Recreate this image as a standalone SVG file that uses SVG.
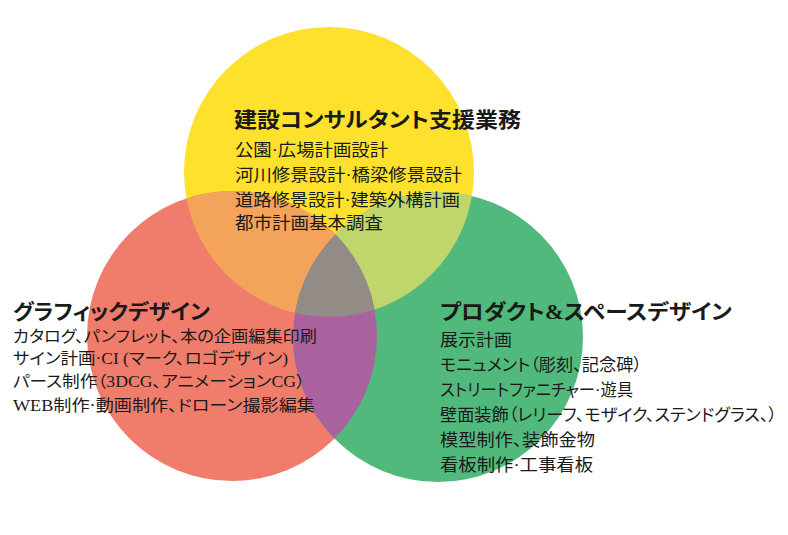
<svg xmlns="http://www.w3.org/2000/svg" width="788" height="535" viewBox="0 0 788 535">
  <style>
    text { font-family: "Liberation Serif", "Noto Sans CJK JP", serif; fill: #1a1a1a; font-feature-settings: "palt" 1; }
    .title { font-weight: bold; font-size: 21px; }
    .body { font-size: 17px; }
    .bodyS { font-size: 16px; }
  </style>
  <defs>
    <clipPath id="clipY"><circle cx="329" cy="172" r="145"/></clipPath>
    <clipPath id="clipR"><circle cx="232" cy="336" r="145"/></clipPath>
    <clipPath id="clipG"><circle cx="438" cy="337" r="145"/></clipPath>
  </defs>
  <rect width="788" height="535" fill="#ffffff"/>

  <g id="circle-consulting">
    <circle cx="329" cy="172" r="145" fill="#FDE12D"/>
  </g>
  <g id="circle-graphic">
    <circle cx="232" cy="336" r="145" fill="#F07C6C"/>
  </g>
  <g id="circle-product">
    <circle cx="438" cy="337" r="145" fill="#52B97D"/>
  </g>

  <g id="overlaps">
    <g clip-path="url(#clipY)">
      <circle cx="232" cy="336" r="145" fill="#F4A35A"/>
      <circle cx="438" cy="337" r="145" fill="#BED66C"/>
    </g>
    <g clip-path="url(#clipR)">
      <circle cx="438" cy="337" r="145" fill="#AA629F"/>
    </g>
    <g clip-path="url(#clipY)">
      <g clip-path="url(#clipR)">
        <circle cx="438" cy="337" r="145" fill="#938B86"/>
      </g>
    </g>
  </g>

  <g id="label-consulting">
    <text class="title" x="234" y="127" textLength="287" lengthAdjust="spacingAndGlyphs">建設コンサルタント支援業務</text>
    <text class="body" x="235" y="156" textLength="153" lengthAdjust="spacingAndGlyphs">公園·広場計画設計</text>
    <text class="body" x="235" y="181" textLength="227" lengthAdjust="spacingAndGlyphs">河川修景設計·橋梁修景設計</text>
    <text class="body" x="235" y="205.5" textLength="225" lengthAdjust="spacingAndGlyphs">道路修景設計·建築外構計画</text>
    <text class="body" x="235" y="229" textLength="148" lengthAdjust="spacingAndGlyphs">都市計画基本調査</text>
  </g>

  <g id="label-graphic">
    <text class="title" x="13" y="319" textLength="197" lengthAdjust="spacingAndGlyphs">グラフィックデザイン</text>
    <text class="bodyS" x="13" y="342" textLength="304" lengthAdjust="spacingAndGlyphs">カタログ、パンフレット、本の企画編集印刷</text>
    <text class="bodyS" x="13" y="364" textLength="275" lengthAdjust="spacingAndGlyphs">サイン計画·CI (マーク、ロゴデザイン)</text>
    <text class="bodyS" x="13" y="387" textLength="292" lengthAdjust="spacingAndGlyphs">パース制作（3DCG、アニメーションCG）</text>
    <text class="bodyS" x="13" y="411" textLength="302" lengthAdjust="spacingAndGlyphs">WEB制作·動画制作、ドローン撮影編集</text>
  </g>

  <g id="label-product">
    <text class="title" x="440" y="319" textLength="292" lengthAdjust="spacingAndGlyphs">プロダクト&amp;スペースデザイン</text>
    <text class="body" x="440" y="345.5" textLength="72" lengthAdjust="spacingAndGlyphs">展示計画</text>
    <text class="body" x="440" y="370.5" textLength="202" lengthAdjust="spacingAndGlyphs">モニュメント（彫刻、記念碑）</text>
    <text class="body" x="440" y="395.5" textLength="193" lengthAdjust="spacingAndGlyphs">ストリートファニチャー·遊具</text>
    <text class="body" x="440" y="420.5" textLength="337" lengthAdjust="spacingAndGlyphs">壁面装飾（レリーフ、モザイク、ステンドグラス、）</text>
    <text class="body" x="440" y="445.5" textLength="155" lengthAdjust="spacingAndGlyphs">模型制作、装飾金物</text>
    <text class="body" x="440" y="470.5" textLength="153" lengthAdjust="spacingAndGlyphs">看板制作·工事看板</text>
  </g>
</svg>
